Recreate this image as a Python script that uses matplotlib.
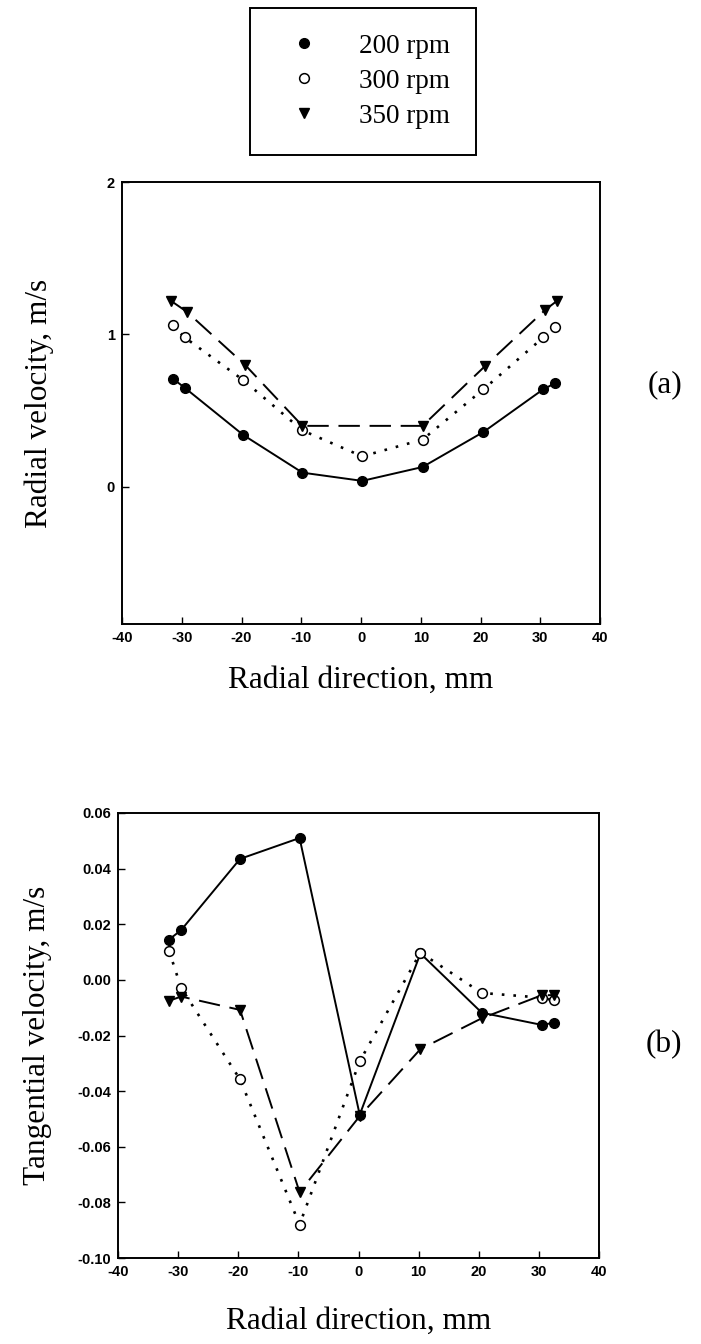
import matplotlib
matplotlib.use("Agg")
import matplotlib.pyplot as plt
from matplotlib.lines import Line2D
from matplotlib.ticker import FormatStrFormatter

plt.rcParams["axes.unicode_minus"] = False

# radial positions (mm)
x = [-31.5, -29.5, -19.7, -9.8, 0.2, 10.3, 20.5, 30.5, 32.5]
x_350a = [-31.8, -29.2, -19.4, -9.8, 10.3, 20.7, 30.8, 32.8]

# (a) radial velocity, m/s
rad_200 = [0.71, 0.65, 0.34, 0.093, 0.039, 0.13, 0.36, 0.64, 0.68]
rad_300 = [1.06, 0.98, 0.70, 0.37, 0.20, 0.31, 0.64, 0.98, 1.05]
rad_350 = [1.22, 1.15, 0.80, 0.40, 0.40, 0.79, 1.16, 1.22]

# (b) tangential velocity, m/s
tan_200 = [0.0145, 0.0179, 0.0435, 0.0510, -0.0485, 0.0095, -0.0118, -0.0162, -0.0154]
tan_300 = [0.0104, -0.0029, -0.0358, -0.0880, -0.0293, 0.0098, -0.0047, -0.0064, -0.0074]
tan_350 = [-0.0075, -0.0060, -0.0108, -0.0763, -0.0490, -0.0249, -0.0138, -0.0055, -0.0055]

labels = ["200 rpm", "300 rpm", "350 rpm"]
xticks = [-40, -30, -20, -10, 0, 10, 20, 30, 40]

serif = ["Liberation Serif", "DejaVu Serif"]
sans = ["Liberation Sans", "DejaVu Sans"]

fig = plt.figure(figsize=(7.01, 13.44), dpi=100)

s200 = dict(color="black", marker="o", ms=7, mfc="black", mec="black", ls="-", lw=1.4)
s300 = dict(color="black", marker="o", ms=7, mfc="white", mec="black", mew=1.1, ls=(0, (1, 3.4)), lw=1.9)
s350 = dict(color="black", marker="v", ms=7, mfc="black", mec="black", ls=(0, (11, 5)), lw=1.4)


def style_axes(ax, ylabel, xlabel_y, ylabel_x):
    ax.set_xlim(-40, 40)
    ax.set_xticks(xticks)
    ax.tick_params(direction="in", length=5, width=1, pad=5)
    for lab in ax.get_xticklabels() + ax.get_yticklabels():
        lab.set_family(sans)
        lab.set_fontweight("bold")
        lab.set_fontsize(10.5)
    for sp in ax.spines.values():
        sp.set_linewidth(1.4)
    ax.set_xlabel("Radial direction, mm", family=serif, fontsize=22.5)
    ax.xaxis.set_label_coords(0.5, xlabel_y)
    ax.set_ylabel(ylabel, family=serif, fontsize=22.5)
    ax.yaxis.set_label_coords(ylabel_x, 0.5)


# (a)
ax1 = fig.add_axes([122 / 701, 1 - 624 / 1344, 478 / 701, 442 / 1344])
ax1.plot(x, rad_200, **s200)
ax1.plot(x, rad_300, **s300)
ax1.plot(x_350a, rad_350, **s350)
ax1.set_ylim(-0.9, 2)
ax1.set_yticks([0, 1, 2])
style_axes(ax1, "Radial velocity, m/s", -0.095, -0.142)
fig.text(648 / 701, 1 - 385 / 1344, "(a)", family=serif, fontsize=22.5, va="center")

# (b)
ax2 = fig.add_axes([118 / 701, 1 - 1258 / 1344, 481 / 701, 445 / 1344])
ax2.plot(x, tan_200, **s200)
ax2.plot(x, tan_300, **s300)
ax2.plot(x, tan_350, **s350)
ax2.set_ylim(-0.10, 0.06)
ax2.set_yticks([-0.10, -0.08, -0.06, -0.04, -0.02, 0.00, 0.02, 0.04, 0.06])
ax2.yaxis.set_major_formatter(FormatStrFormatter("%.2f"))
style_axes(ax2, "Tangential velocity, m/s", -0.11, -0.138)
fig.text(646 / 701, 1 - 1045 / 1344, "(b)", family=serif, fontsize=22.5, va="center")

# legend box at top
handles = [
    Line2D([], [], marker="o", ms=7, mfc="black", mec="black", ls="none"),
    Line2D([], [], marker="o", ms=7, mfc="white", mec="black", mew=1.1, ls="none"),
    Line2D([], [], marker="v", ms=7, mfc="black", mec="black", ls="none"),
]
leg = fig.legend(handles, labels, loc="upper center", bbox_to_anchor=(363 / 701, 1 - 8 / 1344),
                 prop={"family": serif, "size": 19.5}, frameon=True, fancybox=False,
                 edgecolor="black", framealpha=1, borderpad=0.95, labelspacing=0.37,
                 handlelength=2.1, handletextpad=1.0, borderaxespad=0)
leg.get_frame().set_linewidth(1.4)

fig.savefig("out.png", dpi=100)
